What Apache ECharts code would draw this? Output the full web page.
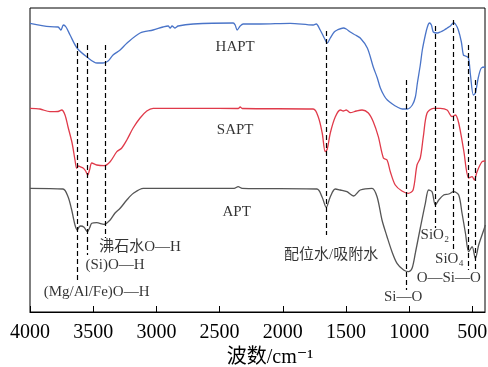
<!DOCTYPE html>
<html>
<head>
<meta charset="utf-8">
<script src="https://cdn.jsdelivr.net/npm/echarts@6/dist/echarts.min.js"></script>
<style>
  html, body { margin: 0; padding: 0; background: #fff; }
  #chart { width: 488px; height: 367px; }
</style>
</head>
<body>
<div id="chart"></div>
<script>
// 红外光谱：波数 (cm-1), 透过率 (任意单位)
var haptW = [4000, 3842, 3778, 3755, 3736, 3715, 3683, 3628, 3549, 3469, 3422, 3382, 3343, 3287, 3232, 3129, 3026, 2947, 2907, 2891, 2876, 2852, 2828, 2709, 2392, 2377, 2361, 2337, 2313, 2179, 1941, 1759, 1735, 1704, 1672, 1648, 1624, 1593, 1569, 1521, 1498, 1466, 1426, 1387, 1331, 1284, 1252, 1228, 1197, 1173, 1133, 1094, 1054, 1015, 975, 951, 935, 912, 896, 872, 856, 840, 824, 809, 777, 753, 722, 698, 674, 650, 634, 611, 587, 571, 555, 531, 515, 492, 476, 452, 429, 397];
var haptT = [288.7, 285.3, 285, 282, 287, 285, 277, 264, 255, 249, 249, 251, 257, 262, 269, 279, 282, 285, 286, 284, 286, 284, 286, 288, 289, 287, 282, 286, 288, 288, 288.7, 287, 288, 282, 274, 269, 274, 280, 282, 284, 283, 280, 277, 274, 264, 245, 234, 224, 216, 212, 208, 205, 203, 203, 207, 215, 229, 247, 262, 277, 285, 289, 287, 280, 279, 280, 282, 284, 286, 289, 288, 282, 270, 257, 256, 254, 237, 217, 219, 235, 244, 245];

var saptW = [4000, 3921, 3842, 3778, 3749, 3723, 3699, 3667, 3644, 3630, 3616, 3604, 3580, 3560, 3543, 3529, 3511, 3472, 3414, 3366, 3313, 3274, 3234, 3184, 3129, 3076, 3026, 2654, 2353, 2337, 2321, 1759, 1719, 1688, 1664, 1648, 1624, 1585, 1545, 1521, 1498, 1466, 1418, 1373, 1323, 1284, 1244, 1204, 1175, 1149, 1110, 1057, 1007, 969, 938, 912, 888, 859, 809, 753, 700, 661, 634, 608, 569, 529, 502, 484, 463, 423, 397];
var saptT = [203.7, 203, 200.3, 200.5, 202, 197, 185, 169, 152, 143.7, 146, 145.3, 144, 141, 137, 142, 149, 147, 146.3, 150.3, 160.3, 164, 172, 184, 194, 201, 203.7, 203.7, 203.5, 205, 203.5, 203, 195, 179, 160.3, 163, 179, 195, 202, 201, 202, 199.3, 201, 202, 199, 190.3, 175.3, 154, 152, 140.3, 127, 121, 118.7, 122, 147, 154, 175.3, 198.7, 203.7, 203.7, 202, 195.3, 197, 189, 162, 134, 135.3, 132, 140.3, 150.3, 151];

var aptW = [4000, 3739, 3699, 3670, 3644, 3625, 3612, 3599, 3572, 3546, 3529, 3511, 3472, 3414, 3366, 3327, 3287, 3234, 3182, 3103, 2654, 2385, 2353, 2321, 1730, 1690, 1656, 1624, 1585, 1545, 1492, 1440, 1387, 1294, 1254, 1215, 1175, 1136, 1096, 1044, 1004, 977, 951, 912, 872, 846, 819, 793, 766, 727, 687, 648, 608, 582, 555, 529, 502, 476, 450, 410, 397];
var aptT = [123.7, 123, 115.3, 102, 87, 82, 85, 86, 84.7, 80.3, 84, 88.7, 89.3, 87.7, 92, 99, 103.7, 112, 118.7, 123.7, 123.7, 123.7, 125.3, 123.7, 123, 115.3, 104.7, 115.3, 123, 122, 120.3, 116, 122, 123.7, 115.3, 92, 75.3, 60.3, 48.7, 42, 40.3, 43.7, 59, 84, 108.7, 122, 120.3, 107, 112, 117, 118, 120.3, 117, 99, 79, 60.3, 65.3, 53.7, 67, 82, 87];

// 虚线：波数, 上端, 下端
var peakW = [3625, 3546, 3408, 1656, 1025, 790, 653, 531, 476];
var peakTop = [269, 267, 267, 281, 232, 286, 292, 267, 232];
var peakBottom = [32, 57, 74, 77, 22, 84, 60, 42, 42];

// 标注
var noteText = ['HAPT', 'SAPT', 'APT', '沸石水O—H', '(Si)O—H', '(Mg/Al/Fe)O—H', '配位水/吸附水', 'Si—O', 'SiO₂', 'SiO₄', 'O—Si—O'];
var noteW = [2377, 2377, 2365, 3129, 3327, 3473, 1618, 1048, 797, 682, 687];
var noteT = [265.3, 182, 100.3, 64.7, 47, 20.3, 57, 15.3, 77, 52.7, 33.7];

var xTicks = [500, 1000, 1500, 2000, 2500, 3000, 3500, 4000];

function zip(a, b) {
  return a.map(function (v, i) { return [v, b[i]]; });
}

var fontFam = '"Liberation Serif", "DejaVu Serif", "Noto Sans CJK SC", serif';

var chart = echarts.init(document.getElementById('chart'));
var option = {
  animation: false,
  grid: {
    left: 30, right: 3, top: 8, bottom: 55,
    containLabel: false,
    outerBoundsMode: 'none',
    show: true, borderColor: '#000', borderWidth: 1
  },
  xAxis: {
    type: 'value',
    inverse: true,
    min: 400,
    max: 4000,
    name: '波数/cm⁻¹',
    nameLocation: 'middle',
    nameGap: 34,
    nameTextStyle: { fontFamily: fontFam, fontSize: 20, color: '#000', padding: [0, 0, 0, 25] },
    axisLine: { show: true, lineStyle: { color: '#000', width: 1.2 } },
    axisTick: { show: true, inside: true, length: 6, customValues: xTicks, lineStyle: { color: '#000' } },
    axisLabel: {
      customValues: xTicks, fontFamily: fontFam, fontSize: 20, color: '#000', margin: 11,
      formatter: function (v) { return String(v); }
    },
    splitLine: { show: false }
  },
  yAxis: {
    type: 'value',
    min: 0,
    max: 304,
    axisLine: { show: false },
    axisTick: { show: false },
    axisLabel: { show: false },
    splitLine: { show: false }
  },
  series: [
    {
      name: 'HAPT', type: 'line', data: zip(haptW, haptT), symbol: 'none', smooth: 0.3,
      lineStyle: { color: '#4A74C8', width: 1.3 }
    },
    {
      name: 'SAPT', type: 'line', data: zip(saptW, saptT), symbol: 'none', smooth: 0.3,
      lineStyle: { color: '#E03A4A', width: 1.3 }
    },
    {
      name: 'APT', type: 'line', data: zip(aptW, aptT), symbol: 'none', smooth: 0.3,
      lineStyle: { color: '#555555', width: 1.3 },
      markLine: {
        silent: true,
        symbol: 'none',
        label: { show: false },
        lineStyle: { color: '#000', type: [5, 3], width: 1.2 },
        data: peakW.map(function (w, i) {
          return [{ coord: [w, peakTop[i]] }, { coord: [w, peakBottom[i]] }];
        })
      }
    },
    {
      name: 'notes', type: 'scatter', symbolSize: 0, silent: true,
      data: noteText.map(function (t, i) {
        return { value: [noteW[i], noteT[i]], label: { formatter: t } };
      }),
      label: {
        show: true, position: 'inside', color: '#000',
        fontFamily: fontFam, fontSize: 15
      }
    }
  ]
};
chart.setOption(option);
</script>
</body>
</html>
